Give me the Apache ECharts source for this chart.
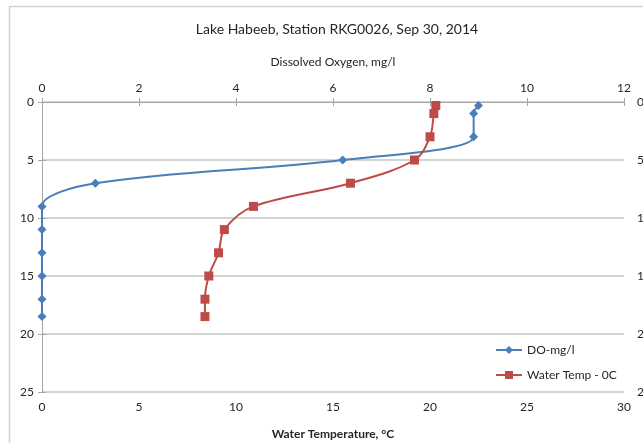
<!DOCTYPE html>
<html>
<head>
<meta charset="utf-8">
<script src="https://cdn.jsdelivr.net/npm/echarts@6/dist/echarts.min.js"></script>
<style>
  html, body { margin: 0; padding: 0; background: #fff; }
  #chart { width: 643px; height: 443px; }
</style>
</head>
<body>
<div id="chart"></div>
<script>
// depth profile, Lake Habeeb
const doDepth = [0.3, 1, 3, 5, 7, 9, 11, 13, 15, 17, 18.5];
const doValues = [9.0, 8.9, 8.9, 6.2, 1.1, 0, 0, 0, 0, 0, 0];

const tempDepth = [0.3, 1, 3, 5, 7, 9, 11, 13, 15, 17, 18.5];
const tempValues = [20.3, 20.2, 20.0, 19.2, 15.9, 10.9, 9.4, 9.1, 8.6, 8.4, 8.4];

const fontFam = "Lato, 'Open Sans', sans-serif";
const textCol = "#262626";

const chart = echarts.init(document.getElementById("chart"));

const yAxisBase = {
    type: "value",
    min: 0,
    max: 25,
    interval: 5,
    inverse: true,
    axisLine: { show: true, lineStyle: { color: "#a6a6a6" } },
    axisTick: { show: true, length: 4, lineStyle: { color: "#a6a6a6" } },
    axisLabel: { color: textCol, fontFamily: fontFam, fontSize: 12 }
};

chart.setOption({
    animation: false,
    title: {
        text: "Lake Habeeb, Station RKG0026, Sep 30, 2014",
        left: 332,
        textAlign: "center",
        top: 17,
        textStyle: { fontFamily: fontFam, fontSize: 14, fontWeight: "normal", color: textCol }
    },
    graphic: [{
        type: "rect",
        shape: { x: 9.5, y: 6.5, width: 700, height: 500 },
        style: { fill: "none", stroke: "#d4d4d4", lineWidth: 1.5 }
    }],
    grid: { left: 42, right: 19, top: 102, bottom: 51, outerBoundsMode: "none" },
    legend: {
        orient: "vertical",
        left: 490,
        top: 339,
        itemGap: 13,
        itemWidth: 26,
        itemHeight: 10,
        textStyle: { fontFamily: fontFam, fontSize: 12, color: textCol },
        data: ["DO-mg/l", "Water Temp - 0C"]
    },
    xAxis: [
        {
            type: "value",
            position: "bottom",
            min: 0,
            max: 30,
            interval: 5,
            name: "Water Temperature, \u00B0C",
            nameLocation: "middle",
            nameGap: 36,
            nameTextStyle: { fontFamily: fontFam, fontSize: 12, fontWeight: "bold", color: textCol },
            axisLine: { lineStyle: { color: "#a6a6a6" } },
            axisTick: { show: true, length: 4, lineStyle: { color: "#a6a6a6" } },
            axisLabel: { margin: 9, color: textCol, fontFamily: fontFam, fontSize: 12 },
            splitLine: { show: false }
        },
        {
            type: "value",
            position: "top",
            min: 0,
            max: 12,
            interval: 2,
            name: "Dissolved Oxygen, mg/l",
            nameLocation: "middle",
            nameGap: 34,
            nameTextStyle: { fontFamily: fontFam, fontSize: 12, color: textCol },
            axisLine: { lineStyle: { color: "#a6a6a6" } },
            axisTick: { show: true, length: 4, lineStyle: { color: "#a6a6a6" } },
            axisLabel: { margin: 8, color: textCol, fontFamily: fontFam, fontSize: 12 },
            splitLine: { show: false }
        }
    ],
    yAxis: [
        Object.assign({}, yAxisBase, {
            position: "left",
            axisLabel: Object.assign({}, yAxisBase.axisLabel, { margin: 8 }),
            splitLine: { show: true, lineStyle: { color: "#c6c6c6", width: 1.5 } }
        }),
        Object.assign({}, yAxisBase, {
            position: "right",
            axisLabel: Object.assign({}, yAxisBase.axisLabel, { margin: 13 }),
            splitLine: { show: false }
        })
    ],
    series: [
        {
            name: "DO-mg/l",
            type: "line",
            xAxisIndex: 1,
            yAxisIndex: 0,
            smooth: 0.35,
            symbol: "diamond",
            symbolSize: 9,
            lineStyle: { color: "#4a7ebb", width: 2 },
            itemStyle: { color: "#4a7ebb" },
            data: doValues.map((v, i) => [v, doDepth[i]])
        },
        {
            name: "Water Temp - 0C",
            type: "line",
            xAxisIndex: 0,
            yAxisIndex: 0,
            smooth: 0.35,
            symbol: "rect",
            symbolSize: 9,
            lineStyle: { color: "#be4b48", width: 2 },
            itemStyle: { color: "#be4b48" },
            data: tempValues.map((v, i) => [v, tempDepth[i]])
        }
    ]
});
</script>
</body>
</html>
